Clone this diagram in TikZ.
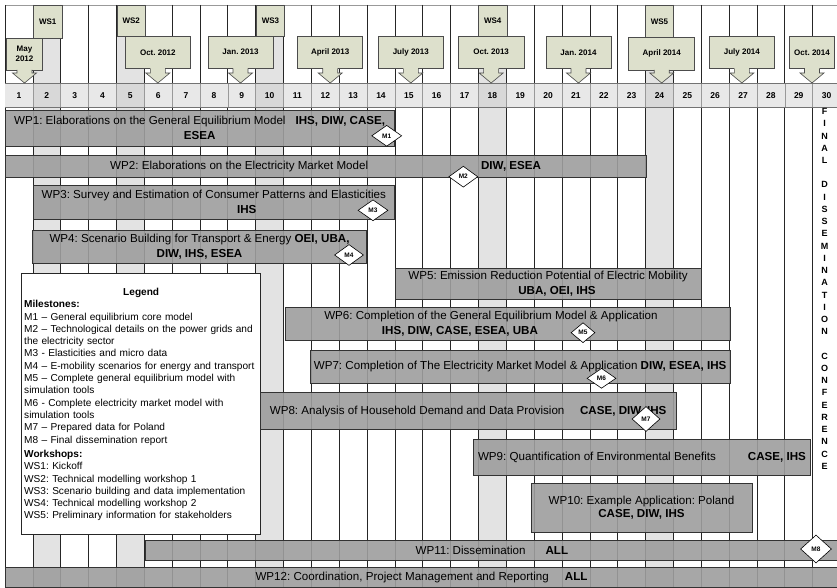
\documentclass[tikz,border=0pt]{standalone}
\usepackage{fontspec}
\setmainfont{Liberation Sans}
\usetikzlibrary{shapes.geometric}
\frenchspacing
\definecolor{calfill}{RGB}{221,224,204}
\definecolor{shadecol}{RGB}{227,227,227}
\definecolor{numrowcol}{RGB}{232,232,232}
\definecolor{numshadecol}{RGB}{216,216,216}
\definecolor{barfill}{RGB}{158,158,158}
\newcommand{\wpbar}[6]{%
  \node[wpbarbox, minimum width={#4-#2}, minimum height={#5-#3}] (#1) at ({(#2+#4)/2},{(#3+#5)/2}) {#6};}
\newcommand{\mycallout}[6]{%
  \pgfmathsetmacro{\cx}{(#2+#3)/2}
  \node[calbox, minimum width={#3-#2}, minimum height={#5-#4}] (#1) at (\cx,{(#4+#5)/2}) {#6};
  \fill[calfill] (\cx-7.5,#5-0.7) rectangle (\cx+7.5,73.3);
  \fill[calfill] (\cx-12,73) -- (\cx,83) -- (\cx+12,73) -- cycle;
  \draw[calline] (\cx-7.5,#5) -- (\cx-7.5,73) -- (\cx-12,73) -- (\cx,83) -- (\cx+12,73) -- (\cx+7.5,73) -- (\cx+7.5,#5);}
\begin{document}
\frenchspacing
\begin{tikzpicture}[x=1pt,y=-1pt,
  gridline/.style={black!85, line width=0.7pt},
  numline/.style={black!40, line width=0.6pt},
  numlbl/.style={font={\fontsize{8.5}{10}\selectfont\bfseries}, inner sep=0pt},
  calbox/.style={draw=black!70, fill=calfill, line width=0.6pt, inner sep=1pt, align=center,
    font={\fontsize{8}{10}\selectfont\bfseries}},
  calline/.style={draw=black!70, line width=0.6pt, line join=miter},
  wsbox/.style={draw=black!70, fill=calfill, line width=0.6pt, inner sep=0pt, anchor=north west,
    font={\fontsize{8}{10}\selectfont\bfseries}},
  wpbarbox/.style={draw=black!80, fill=barfill, fill opacity=0.9, text opacity=1, line width=0.7pt,
    inner sep=2pt, align=center, font={\fontsize{11.6}{15}\selectfont\frenchspacing}},
  mstone/.style={diamond, draw=black, fill=white, line width=0.6pt, inner sep=0pt,
    minimum width=29pt, minimum height=21pt, font={\fontsize{6.5}{7}\selectfont\bfseries}},
  legbox/.style={draw=black!85, fill=white, line width=0.7pt, anchor=north west, inner sep=0pt},
  legtext/.style={anchor=north west, inner sep=0pt, text width=234pt, align=left,
    font={\fontsize{10.1}{12.3}\selectfont\frenchspacing}},
  vtext/.style={anchor=north, inner sep=0pt, align=center, font={\fontsize{9}{12.23}\selectfont\bfseries}}
]
\useasboundingbox (0,0) rectangle (837,588);
\fill[white] (0,0) rectangle (837,588);

% shaded workshop columns
\foreach \c/\ys in {2/38,5/36,10/36,18/36,24/36}{
  \fill[shadecol] ({5+(\c-1)*27.85},\ys) rectangle ({5+\c*27.85},588);
}
% grid lines
\draw[black!40, line width=0.6pt] (5,5) -- (837,5);
\draw[gridline] (5,5) -- (5,588);
\foreach \k in {1,...,29}{
  \draw[gridline] ({5+\k*27.85},5) -- ({5+\k*27.85},588);
}
% number row
\fill[numrowcol] (5,83) rectangle (837,107);
\foreach \c in {2,5,10,18,24}{
  \fill[numshadecol] ({5+(\c-1)*27.85},83) rectangle ({5+\c*27.85},107);
}
\foreach \k in {1,...,29}{
  \draw[numline] ({5+\k*27.85},83) -- ({5+\k*27.85},107);
}
\draw[black!55, line width=0.7pt] (5,83) -- (837,83);
\draw[black!55, line width=0.7pt] (5,107) -- (837,107);
\foreach \i in {1,...,30}{
  \node[numlbl] (num\i) at ({5+(\i-0.5)*27.85},95.5) {\i};
}

% workshop boxes
\node[wsbox, minimum width=28.35pt, minimum height=33pt] (ws1) at (33.3,5) {WS1};
\node[wsbox, minimum width=28.35pt, minimum height=31pt] (ws2) at (116.7,5) {WS2};
\node[wsbox, minimum width=28.35pt, minimum height=31pt] (ws3) at (256,5) {WS3};
\node[wsbox, minimum width=28.35pt, minimum height=31pt] (ws4) at (478.2,5) {WS4};
\node[wsbox, minimum width=28.35pt, minimum height=32pt] (ws5) at (645,5) {WS5};

% month callouts
\mycallout{may12}{6.7}{42.3}{38.3}{70}{May\\2012}
\mycallout{oct12}{125}{190.7}{36}{68.5}{Oct. 2012}
\mycallout{jan13}{208}{273}{36}{68.5}{Jan. 2013}
\mycallout{apr13}{297.7}{362.7}{36}{68.5}{April 2013}
\mycallout{jul13}{378.3}{443.3}{36}{68.5}{July 2013}
\mycallout{oct13}{458}{524.3}{36}{68.5}{Oct. 2013}
\mycallout{jan14}{546}{611}{36}{68.5}{Jan. 2014}
\mycallout{apr14}{628.7}{694.7}{37}{70}{April 2014}
\mycallout{jul14}{709}{774.7}{36}{68.5}{July 2014}
\mycallout{oct14}{789.3}{834.7}{36}{68.5}{Oct. 2014}

% legend
\node[legbox, minimum width=239.3pt, minimum height=260.7pt] (legend) at (20.7,273.3) {};
\node[legtext] (legendtext) at (24,287.9) {%
\makebox[234pt]{\textbf{Legend}}\\
\textbf{Milestones:}\\
M1 – General equilibrium core model\\
M2 – Technological details on the power grids and\\
the electricity sector\\
M3 - Elasticities and micro data\\
M4 – E-mobility scenarios for energy and transport\\
M5 – Complete general equilibrium model with\\
simulation tools\\
M6 - Complete electricity market model with\\
simulation tools\\
M7 – Prepared data for Poland\\
M8 – Final dissemination report\\[2.1pt]
\textbf{Workshops:}\\
WS1: Kickoff\\
WS2: Technical modelling workshop 1\\
WS3: Scenario building and data implementation\\
WS4: Technical modelling workshop 2\\
WS5: Preliminary information for stakeholders};

% work package bars
\wpbar{wp1}{5}{110}{394.3}{146}{WP1: Elaborations on the General Equilibrium Model\hspace{10pt}\textbf{IHS, DIW, CASE,}\\\textbf{ESEA}}
\wpbar{wp2}{5}{155}{646.3}{177.7}{WP2: Elaborations on the Electricity Market Model\hspace{113pt}\textbf{DIW, ESEA}}
\wpbar{wp3}{33.3}{185}{394.3}{219}{WP3: Survey and Estimation of Consumer Patterns and Elasticities\\\hbox{\hspace{66pt}\textbf{IHS}}}
\wpbar{wp4}{32.3}{230}{366.7}{263.3}{WP4: Scenario Building for Transport \& Energy \textbf{OEI, UBA,}\\\textbf{DIW, IHS, ESEA}}
\wpbar{wp5}{395}{268}{701}{299.3}{WP5: Emission Reduction Potential of Electric Mobility\\\hbox{\hspace{18pt}\textbf{UBA, OEI, IHS}}}
\wpbar{wp6}{285}{307.3}{730.3}{340.7}{\hbox{WP6: Completion of the General Equilibrium Model \& Application\hspace{33.4pt}}\\\hbox{\textbf{IHS, DIW, CASE, ESEA, UBA}\hspace{95.4pt}}}
\wpbar{wp7}{310}{350}{730.3}{383.3}{WP7: Completion of The Electricity Market Model \& Application \textbf{DIW, ESEA, IHS}}
\wpbar{wp8}{260}{392.7}{676.3}{429.3}{WP8: Analysis of Household Demand and Data Provision\hspace{15.6pt}\textbf{CASE, DIW, IHS}}
\wpbar{wp9}{473.7}{439.3}{810.3}{475}{WP9: Quantification of Environmental Benefits\hspace{32pt}\textbf{CASE, IHS}}
\node[wpbarbox, minimum width=221pt, minimum height=49.4pt, font={\fontsize{11.6}{13.3}\selectfont\frenchspacing}] (wp10) at (641.5,508) {WP10: Example Application: Poland\\\textbf{CASE, DIW, IHS}};
\wpbar{wp11}{145.7}{540}{838}{560.7}{WP11: Dissemination\hspace{20pt}\textbf{ALL}}
\wpbar{wp12}{5}{567.3}{838}{587.6}{WP12: Coordination, Project Management and Reporting\hspace{16pt}\textbf{ALL}}

% milestones
\node[mstone, minimum width=30pt] (m1) at (386.7,135.8) {M1};
\node[mstone] (m2) at (463.3,176.7) {M2};
\node[mstone, minimum width=30pt] (m3) at (373,210.3) {M3};
\node[mstone] (m4) at (349,255) {M4};
\node[mstone, minimum width=24pt, minimum height=20pt] (m5) at (583,332.7) {M5};
\node[mstone, minimum height=20pt] (m6) at (601.5,378.3) {M6};
\node[mstone, minimum width=28pt, minimum height=25pt] (m7) at (646,419) {M7};
\node[mstone, minimum width=31pt, minimum height=28pt] (m8) at (816,549) {M8};

% final conference
\node[vtext] (finalconf) at (824.5,108.2) {F\\I\\N\\A\\L\\[12.23pt]D\\I\\S\\S\\E\\M\\I\\N\\A\\T\\I\\O\\N\\[12.23pt]C\\O\\N\\F\\E\\R\\E\\N\\C\\E};
\end{tikzpicture}
\end{document}
